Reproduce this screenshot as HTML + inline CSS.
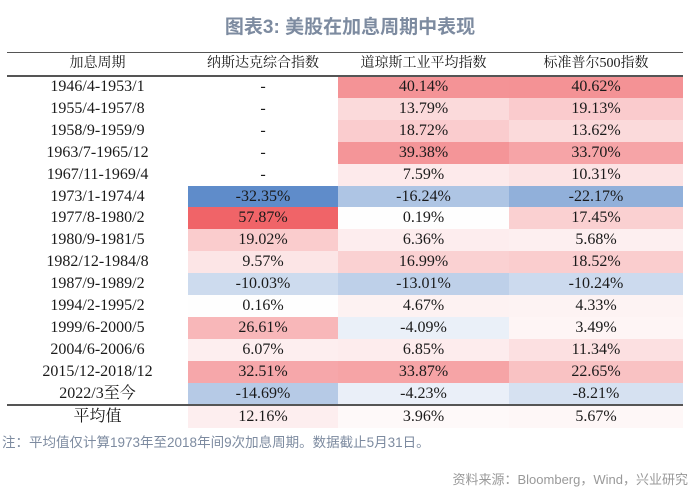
<!DOCTYPE html>
<html><head><meta charset="utf-8">
<style>
body{margin:0;width:700px;height:494px;background:#fff;position:relative;overflow:hidden;font-family:"Liberation Serif","Noto Serif CJK SC",serif;}
#title{position:absolute;top:12px;left:0;width:700px;text-align:center;font:bold 19px "Liberation Sans","Noto Sans CJK SC",sans-serif;color:#7d8ba0;}
#tbl{position:absolute;left:7px;top:52px;width:676px;}
.row{position:absolute;left:0;width:676px;height:22px;}
.cell{position:absolute;top:0;height:100%;text-align:center;font-size:16px;line-height:22px;color:#1a1a1a;}
.hline{position:absolute;left:0;width:676px;background:#555;}
#note{position:absolute;left:2px;top:431px;font:13.5px "Liberation Sans","Noto Sans CJK SC",sans-serif;color:#7d8ba0;}
#src{position:absolute;right:12px;top:469px;font:13px "Liberation Sans","Noto Sans CJK SC",sans-serif;color:#999;}
</style></head><body>
<div id="title">图表3: 美股在加息周期中表现</div>
<div id="tbl"></div>
<div id="note">注：平均值仅计算1973年至2018年间9次加息周期。数据截止5月31日。</div>
<div id="src">资料来源：Bloomberg，Wind，兴业研究</div>
<script>
const headers=["加息周期","纳斯达克综合指数","道琼斯工业平均指数","标准普尔500指数"];
const periods=["1946/4-1953/1","1955/4-1957/8","1958/9-1959/9","1963/7-1965/12","1967/11-1969/4","1973/1-1974/4","1977/8-1980/2","1980/9-1981/5","1982/12-1984/8","1987/9-1989/2","1994/2-1995/2","1999/6-2000/5","2004/6-2006/6","2015/12-2018/12","2022/3至今"];
const nasdaq=[null,null,null,null,null,-32.35,57.87,19.02,9.57,-10.03,0.16,26.61,6.07,32.51,-14.69];
const dow=[40.14,13.79,18.72,39.38,7.59,-16.24,0.19,6.36,16.99,-13.01,4.67,-4.09,6.85,33.87,-4.23];
const sp500=[40.62,19.13,13.62,33.70,10.31,-22.17,17.45,5.68,18.52,-10.24,4.33,3.49,11.34,22.65,-8.21];
const avgLabel="平均值";
const avgs=[12.16,3.96,5.67];
const colX=[0,181,331,502,676];
const headH=23,rowH=21.9;
const tbl=document.getElementById('tbl');
const maxV=57.87,minV=-32.35;
function color(v,fade){
  if(v==null)return 'transparent';
  let r,g,b;
  if(v>=0){const t=Math.min(1,v/maxV)*fade;r=255+(240-255)*t;g=255+(100-255)*t;b=255+(104-255)*t;}
  else{const t=Math.min(1,v/minV)*fade;r=255+(95-255)*t;g=255+(140-255)*t;b=255+(202-255)*t;}
  return `rgb(${r|0},${g|0},${b|0})`;
}
function addRow(y,h,vals,name,fade,isHead){
  const row=document.createElement('div');row.className='row';
  
  
  row.style.top=y+'px';row.style.height=(h+0.6)+'px';
  vals.forEach((v,i)=>{
    const c=document.createElement('div');c.className='cell';
    
    
    c.style.left=colX[i]+'px';c.style.width=(colX[i+1]-colX[i])+'px';c.style.lineHeight=h+'px';
    if(isHead||i==0){c.textContent=v;if(isHead)c.style.fontSize='14px';}
    else{c.textContent=v==null?'-':v.toFixed(2)+'%';c.style.background=color(v,fade);}
    row.appendChild(c);
  });
  tbl.appendChild(row);
}
function line(y,h,name){const l=document.createElement('div');l.className='hline';


l.style.top=y+'px';l.style.height=h+'px';tbl.appendChild(l);}
addRow(0,headH,headers,'header-row',1,true);
periods.forEach((p,i)=>addRow(headH+1+i*rowH,rowH,[p,nasdaq[i],dow[i],sp500[i]],'row-'+i,1,false));
const avgY=headH+1+periods.length*rowH+1;
addRow(avgY,22,[avgLabel,...avgs],'average-row',0.5,false);
line(0,1,'top-rule');line(headH,1.5,'header-rule');line(avgY-1.5,1.5,'average-rule');
</script>
</body></html>
